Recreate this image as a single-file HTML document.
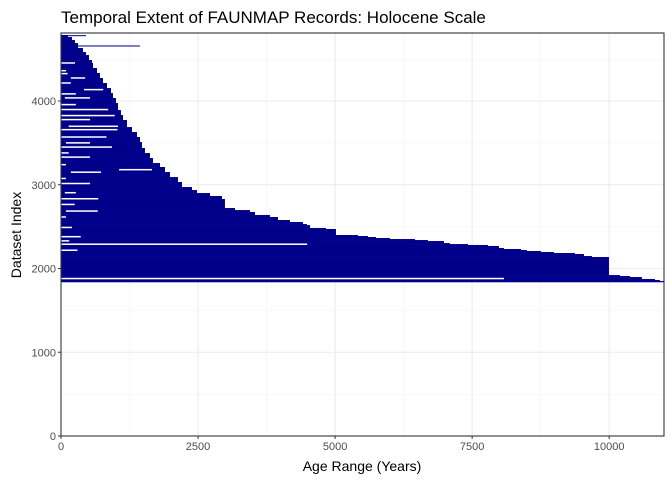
<!DOCTYPE html>
<html><head><meta charset="utf-8"><style>
body{margin:0;background:#fff;font-family:"Liberation Sans",sans-serif;}
</style></head><body>
<svg id="chart" width="672" height="480" xmlns="http://www.w3.org/2000/svg">
<rect width="672" height="480" fill="#fff"/>
<text x="61" y="23" font-size="17" fill="#000">Temporal Extent of FAUNMAP Records: Holocene Scale</text>
<g id="grid"></g>
<g id="marks"></g>
<rect x="61" y="33" width="603" height="403" fill="none" stroke="#333" stroke-width="1.1"/>
<g id="axes"></g>
<text x="362" y="471" font-size="14" text-anchor="middle">Age Range (Years)</text>
<text transform="translate(21,235) rotate(-90)" font-size="14" text-anchor="middle">Dataset Index</text>
</svg>
<script>
const xTicks=[0,2500,5000,7500,10000];
const xTickLabels=["0","2500","5000","7500","10000"];
const yTicks=[0,1000,2000,3000,4000];
const yTickLabels=["0","1000","2000","3000","4000"];
const topIndex=4788;
const envIdx=[1839,1851,1863,1875,1898,1910,1922,2137,2149,2173,2185,2197,2209,2221,2233,2245,2269,2281,2292,2304,2328,2340,2352,2364,2376,2388,2400,2472,2484,2519,2531,2555,2579,2615,2639,2675,2698,2722,2830,2866,2901,2937,2973,3033,3092,3152,3212,3260,3319,3379,3439,3510,3570,3630,3689,3773,3833,3892,3976,4036,4095,4155,4215,4275,4334,4394,4454,4489,4549,4585,4633,4692,4728,4764];
const envAge=[11000,10926,10835,10597,10379,10196,9996,9686,9540,9375,8992,8755,8500,8390,8080,7989,7788,7424,7095,6986,6694,6457,6001,5746,5600,5417,5016,4834,4542,4487,4414,4177,3958,3812,3539,3447,3174,2991,2937,2718,2481,2389,2207,2134,1988,1897,1806,1678,1623,1532,1477,1441,1386,1295,1204,1131,1094,1040,1003,948,912,839,766,711,657,584,565,511,456,401,310,255,201,128];
const gapIdx=[4454,4362,4327,4275,4215,4136,4085,4037,3957,3898,3826,3778,3698,3658,3570,3500,3450,3380,3330,3240,3180,3150,3075,3015,2905,2833,2765,2686,2615,2490,2380,2330,2290,2218,1880];
const gapFrom=[0,0,0,180,0,420,0,70,0,0,0,0,140,0,0,90,0,0,0,0,1060,180,0,0,70,0,0,90,0,0,0,0,0,0,0];
const gapTo=[255,90,120,440,180,770,270,530,270,860,980,530,1040,1030,830,530,930,140,530,90,1660,730,90,530,270,680,250,670,90,200,360,150,4490,300,8080];
const extraIdx=[4657,4780];
const extraAge=[1440,456];

const X0=61,X1=664,Y0=436,Y1=33,XMAX=11000,YMAX=4812;
const sx=v=>X0+Math.min(v,XMAX)/XMAX*(X1-X0);
const sy=v=>Y0-v/YMAX*(Y0-Y1);
const NS="http://www.w3.org/2000/svg";
function mk(tag,attrs,parent){const e=document.createElementNS(NS,tag);for(const k in attrs)e.setAttribute(k,attrs[k]);parent.appendChild(e);return e;}
const grid=document.getElementById('grid'),marks=document.getElementById('marks'),axes=document.getElementById('axes');
for(let i=0;i<xTicks.length;i++){const v=xTicks[i]+1250;if(v<XMAX){const l=mk('line',{x1:sx(v),x2:sx(v),y1:Y1,y2:Y0,stroke:'#f2f2f2','stroke-width':0.6},grid);

}}
for(let i=0;i<yTicks.length;i++){const v=yTicks[i]+500;if(v<YMAX){const l=mk('line',{x1:X0,x2:X1,y1:sy(v),y2:sy(v),stroke:'#f2f2f2','stroke-width':0.6},grid);

}}
xTicks.forEach((v,i)=>{
const l=mk('line',{x1:sx(v),x2:sx(v),y1:Y1,y2:Y0,stroke:'#ebebeb','stroke-width':1.1},grid);


const t=mk('line',{x1:sx(v),x2:sx(v),y1:Y0,y2:Y0+3,stroke:'#333'},axes);


const tx=mk('text',{x:sx(v),y:Y0+14,'font-size':11,fill:'#4d4d4d','text-anchor':'middle'},axes);tx.textContent=xTickLabels[i];


});
yTicks.forEach((v,i)=>{
const l=mk('line',{x1:X0,x2:X1,y1:sy(v),y2:sy(v),stroke:'#ebebeb','stroke-width':1.1},grid);


const t=mk('line',{x1:X0-3,x2:X0,y1:sy(v),y2:sy(v),stroke:'#333'},axes);


const tx=mk('text',{x:X0-5,y:sy(v)+4,'font-size':11,fill:'#4d4d4d','text-anchor':'end'},axes);tx.textContent=yTickLabels[i];


});
envIdx.forEach((lo,i)=>{
const hi=i+1<envIdx.length?envIdx[i+1]:topIndex;
const r=mk('rect',{x:sx(0),y:sy(hi),width:sx(envAge[i])-sx(0),height:sy(lo)-sy(hi)+0.3,fill:'#00008b'},marks);


});
gapIdx.forEach((g,i)=>{
const r=mk('rect',{x:sx(gapFrom[i]),y:sy(g+9),width:sx(gapTo[i])-sx(gapFrom[i]),height:sy(g-9)-sy(g+9),fill:'#fff'},marks);


});
extraIdx.forEach((g,i)=>{
const r=mk('rect',{x:sx(0),y:sy(g+6),width:sx(extraAge[i])-sx(0),height:sy(g-6)-sy(g+6),fill:'#00008b'},marks);


});
</script>
</body></html>
